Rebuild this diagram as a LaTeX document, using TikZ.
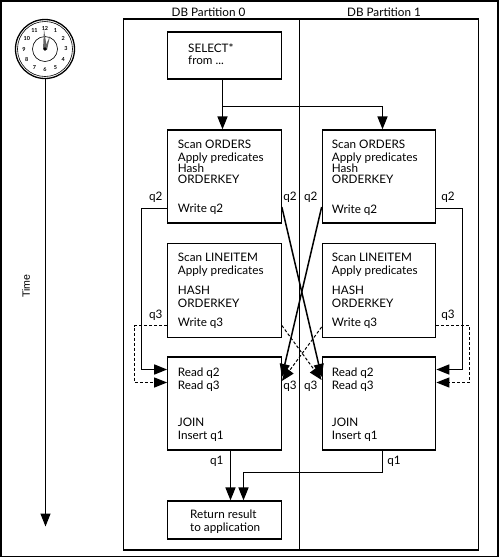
\documentclass[tikz,border=0pt]{standalone}
\usepackage{fontspec}
\setmainfont{Lato}
\newfontfamily\helv{Liberation Sans}
\usetikzlibrary{arrows.meta}
\begin{document}
\begin{tikzpicture}[
        x=1pt, y=-1pt,
        frame/.style={draw, line width=1.3pt},
        box/.style={draw, line width=1.2pt, minimum width=113.5pt, inner sep=0pt},
        txt/.style={anchor=north west, align=left, inner sep=0pt, font=\fontsize{11.7}{12.6}\selectfont},
        lbl/.style={inner sep=0pt, font=\fontsize{11.7}{12.6}\selectfont},
        arrow/.style={line width=1.6pt, -{Triangle[length=13pt,width=10pt]}},
        cross/.style={line width=1.5pt, -{Triangle[length=13pt,width=10pt]}},
        dasharrow/.style={line width=1pt, dash pattern=on 3pt off 2pt, -{Triangle[length=13pt,width=10pt]}}
      ]
      \useasboundingbox (0,0) rectangle (500,558);
      \draw[frame] (1,1) rectangle (498,556.5);

      % clock and time axis
      \node[circle, draw, line width=1.3pt, minimum size=59pt, inner sep=0pt] (clock) at (45,49) {};
      \node[circle, draw, line width=0.6pt, minimum size=55pt, inner sep=0pt] (rim) at (45,49) {};
      \node[circle, draw, line width=0.6pt, minimum size=25pt, inner sep=0pt] (dial) at (45,49) {};
      \foreach \n in {1,...,12}
        \node[inner sep=0pt, font=\bfseries\fontsize{5.5}{6}\selectfont] (h\n) at ({45+21*sin(30*\n)},{49-21*cos(30*\n)}) {\n};
      \fill[black!60] (43,49) -- (44,29) -- (47,49) -- cycle;
      \fill[black!60] (44,49) -- (50,36) -- (47,50) -- cycle;
      \fill (45,49) circle (1.8pt);
      \draw[arrow, line width=1.2pt] (clock.south -| 45.5,0) -- (45.5,526.5);
      \node[inner sep=0pt, rotate=90, font=\helv\fontsize{10.6}{12.4}\selectfont] (time) at (26,286) {Time};

      % partitions
      \node[lbl] (part0) at (208.5,12.5) {DB Partition 0};
      \node[lbl] (part1) at (384,12.5) {DB Partition 1};
      \node[frame, minimum width=354.5pt, minimum height=531pt, inner sep=0pt] (outer) at (301,284.5) {};
      \draw[frame] (outer.north -| 299.5,0) -- (outer.south -| 299.5,0);

      % left column
      \node[box, minimum height=47pt] (select) at (224.5,55.5) {};
      \node[box, minimum height=93pt] (scan0) at (224.5,176.5) {};
      \node[box, minimum height=93.5pt] (line0) at (224.5,290.5) {};
      \node[box, minimum height=93pt] (read0) at (224.5,403.5) {};
      \node[box, minimum height=38pt] (result) at (224.5,520) {};

      % right column
      \node[box, minimum height=93pt] (scan1) at (379,176.5) {};
      \node[box, minimum height=93.5pt] (line1) at (379,290.5) {};
      \node[box, minimum height=93pt] (read1) at (379,403.5) {};

      % box texts
      \node[txt] (query) at (188,43) {SELECT*\\from ...};
      \foreach \x/\i/\w in {177.7/0/204,331.7/1/205} {
        \node[txt] (sa\i) at (\x,140) {Scan ORDERS\\Apply predicates\\[-1.5pt]Hash\\[-1.5pt]ORDERKEY};
        \node[txt] (sb\i) at (\x,\w) {Write q2};
        \node[txt] (la\i) at (\x,253) {Scan LINEITEM\\Apply predicates};
        \node[txt] (lb\i) at (\x,286) {HASH\\ORDERKEY};
        \node[txt] (lc\i) at (\x,318) {Write q3};
        \node[txt] (ra\i) at (\x,368) {Read q2\\Read q3};
        \node[txt] (rb\i) at (\x,418) {JOIN\\Insert q1};
      }
      \node[txt] (ret) at (190,510) {Return result\\to application};

      % connectors
      \coordinate (fan) at (222.5,106.5);
      \draw[arrow] (select.south -| 222.5,0) -- (scan0.north -| 222.5,0);
      \draw[arrow] (fan) -| (scan1.north -| 382.5,0);

      \coordinate (s0w) at (scan0.west |- 0,208.5);
      \coordinate (s0e) at (scan0.east |- 0,207);
      \coordinate (s1w) at (scan1.west |- 0,207);
      \coordinate (s1e) at (scan1.east |- 0,208.5);
      \coordinate (l0w) at (line0.west |- 0,325.5);
      \coordinate (l0e) at (line0.east |- 0,325.5);
      \coordinate (l1w) at (line1.west |- 0,327);
      \coordinate (l1e) at (line1.east |- 0,325.5);

      \draw[arrow] (s0w) -- (141.5,208.5) -- (141.5,369.5) -- (read0.west |- 0,369.5);
      \draw[dasharrow] (l0w) -- (134.5,325.5) -- (134.5,382.5) -- (read0.west |- 0,382.5);
      \draw[arrow] (s1e) -- (462.5,208.5) -- (462.5,369.5) -- (read1.east |- 0,369.5);
      \draw[dasharrow] (l1e) -- (469.5,325.5) -- (469.5,382.5) -- (read1.east |- 0,382.5);

      \draw[cross] (s0e) -- (read1.west |- 0,377);
      \draw[cross] (s1w) -- (read0.east |- 0,377);
      \draw[dasharrow] (l0e) -- (read1.west |- 0,380);
      \draw[dasharrow] (l1w) -- (read0.east |- 0,381);

      \draw[arrow] (read0.south -| 230.5,0) -- (result.north -| 230.5,0);
      \draw[arrow] (read1.south -| 382.5,0) -- (382.5,472.5) -- (243.5,472.5) -- (result.north -| 243.5,0);

      % queue labels
      \foreach \x/\y/\t/\n in {155.7/197/q2/a,290/197/q2/b,310.7/197/q2/c,448/197/q2/d,
                               155.7/315.7/q3/e,290/386/q3/f,310.7/386/q3/g,448/315.7/q3/h,
                               216.7/461/q1/i,394/461/q1/j}
        \node[lbl] (q\n) at (\x,\y) {\t};
\end{tikzpicture}
\end{document}
